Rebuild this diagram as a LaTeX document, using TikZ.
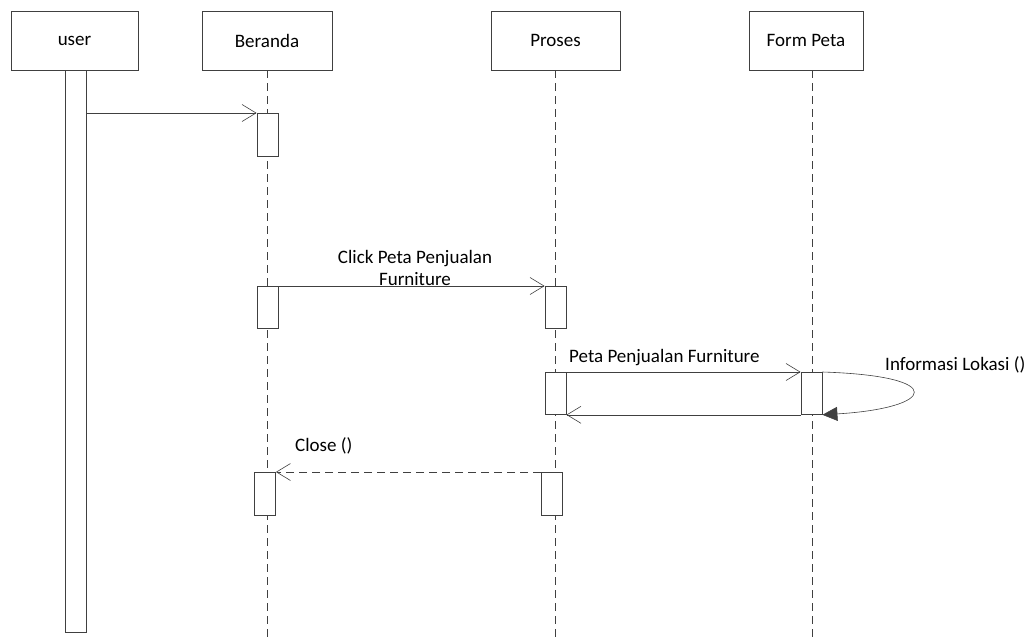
\documentclass[tikz,border=0pt]{standalone}
\usepackage{fontspec}
\setmainfont{Carlito}
\usetikzlibrary{arrows.meta}
\definecolor{ln}{HTML}{404040}
\tikzset{
  head/.style={draw=ln, line width=0.8pt, minimum width=127pt, minimum height=59pt, inner sep=0pt, font=\fontsize{19}{22}\selectfont},
  act/.style={draw=ln, fill=white, line width=0.8pt, minimum width=21pt, inner sep=0pt, anchor=north},
  life/.style={draw=ln, line width=0.6pt, dash pattern=on 8pt off 5pt},
  msg/.style={draw=ln, line width=0.6pt, -{Straight Barb[length=14pt, width=17pt, line width=0.6pt]}},
  ret/.style={msg, dash pattern=on 8pt off 5pt},
  self/.style={draw=ln, line width=0.6pt, -{Triangle[length=15pt, width=14pt, fill=ln]}},
  lbl/.style={font=\fontsize{19}{22}\selectfont, inner sep=0pt, align=center}
}
\begin{document}
\begin{tikzpicture}[x=1pt, y=-1pt]
\useasboundingbox (0,0) rectangle (1032,637);
% heads
\node[head] (user) at (74.5,40.5) {user};
\node[head, minimum width=130pt] (ber) at (267,40.5) {Beranda};
\node[head, minimum width=129pt] (pro) at (555.5,40.5) {Proses};
\node[head, minimum width=114pt] (form) at (806,40.5) {Form Peta};
% lifelines
\coordinate (bEnd) at (267,637);
\coordinate (pEnd) at (555.5,637);
\coordinate (fEnd) at (812,637);
\draw[life] (ber.south -| bEnd) -- (bEnd);
\draw[life] (pro.south -| pEnd) -- (pEnd);
\draw[life] (form.south -| fEnd) -- (fEnd);
% activations
\node[act, minimum height=562pt] (ua) at (75.5,70) {};
\node[act, minimum height=43pt] (b1) at (267.5,113) {};
\node[act, minimum height=42pt] (b2) at (267.5,286) {};
\node[act, minimum height=43pt] (b3) at (265,472) {};
\node[act, minimum height=42pt] (p1) at (555.5,286) {};
\node[act, minimum height=42pt] (p2) at (555.5,372) {};
\node[act, minimum height=43pt] (p3) at (552,472) {};
\node[act, minimum height=42pt] (f1) at (811.5,372) {};
% messages
\draw[msg] (ua.east |- b1.north) -- (b1.north west);
\node[lbl] (clicklbl) at (415,268) {Click Peta Penjualan\\Furniture};
\draw[msg] (b2.north east) -- (p1.north west);
\node[lbl, anchor=west] (petalbl) at (569,358) {Peta Penjualan Furniture};
\draw[msg] (p2.north east) -- (f1.north west);
\draw[msg] (f1.south west) -- (p2.south east);
\draw[self] (f1.north east) .. controls (950,376) and (935,408) .. (f1.south east);
\node[lbl, anchor=west] (info) at (885,365) {Informasi Lokasi ()};
\draw[ret] (p3.north west) -- (b3.north east);
\node[lbl, anchor=west] (close) at (295,446) {Close ()};
\end{tikzpicture}
\end{document}
